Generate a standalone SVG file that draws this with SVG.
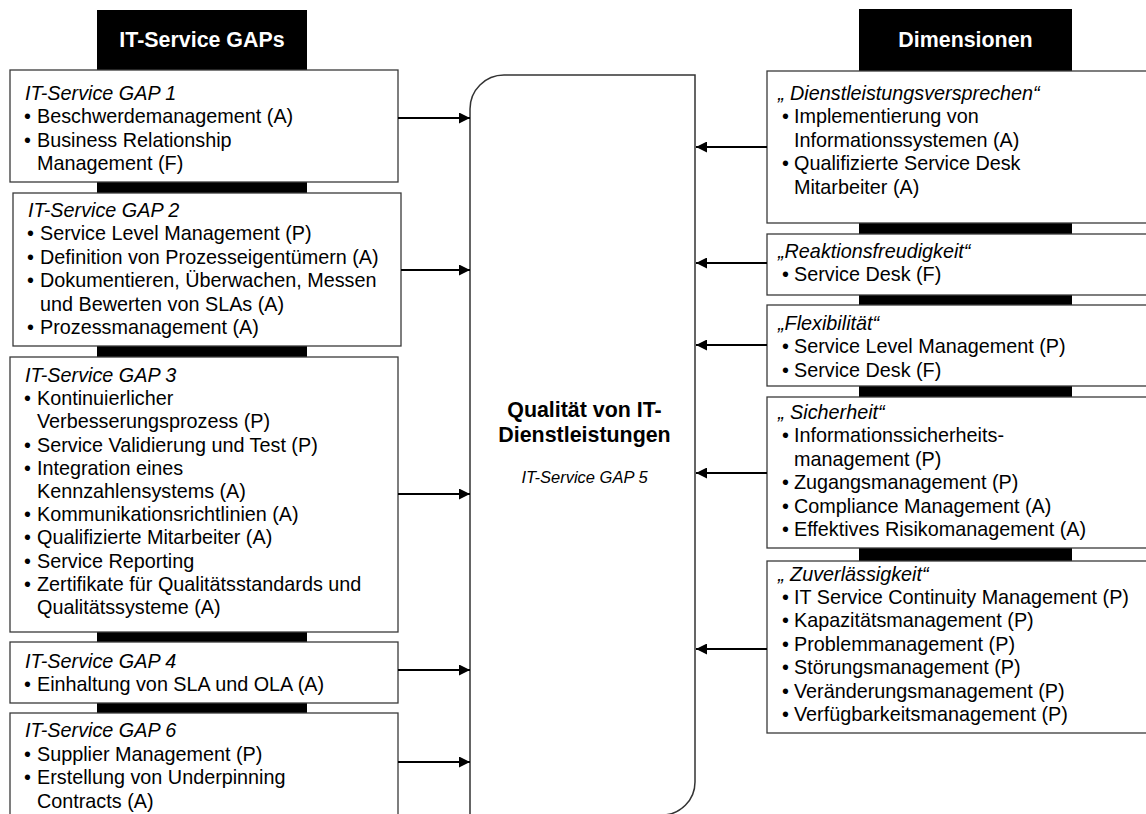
<svg xmlns="http://www.w3.org/2000/svg" width="1146" height="814" viewBox="0 0 1146 814">
<style>
.box{fill:#fff;stroke:#3a3a3a;stroke-width:1.3}
.col{fill:#000}
.hd{font-family:"Liberation Sans",Arial,sans-serif;font-weight:bold;font-size:21.4px;fill:#fff;text-anchor:middle}
.t{font-family:"Liberation Sans",Arial,sans-serif;font-size:19.8px;fill:#000}
.i{font-style:italic}
.c{font-family:"Liberation Sans",Arial,sans-serif;font-weight:bold;font-size:21.4px;fill:#000;text-anchor:middle}
.ci{font-family:"Liberation Sans",Arial,sans-serif;font-style:italic;font-size:16.5px;fill:#000;text-anchor:middle}
.con{stroke:#000;stroke-width:2;fill:none;marker-end:url(#ah)}
</style>
<defs>
<marker id="ah" markerUnits="userSpaceOnUse" markerWidth="12" markerHeight="11" refX="11" refY="5.5" orient="auto">
<path d="M0,0 L11,5.5 L0,11 Z" fill="#000"/>
</marker>
</defs>
<rect width="1146" height="814" fill="#fff"/>

<g id="header-left">
<rect class="col" x="97" y="10" width="210" height="810"/>
<text class="hd" x="202" y="47">IT-Service GAPs</text>
</g>
<g id="header-right">
<rect class="col" x="859" y="9" width="213" height="640"/>
<text class="hd" x="965.5" y="47">Dimensionen</text>
</g>

<g id="center">
<path class="box" d="M470,822 L470,109 A34,34 0 0 1 504,75 L695,75 L695,782 A33,33 0 0 1 662,815 L470,815" style="stroke-width:1.5;stroke:#333"/>
<text class="c" x="584.5" y="417">Qualität von IT-</text>
<text class="c" x="584.5" y="441.5">Dienstleistungen</text>
<text class="ci" x="584.5" y="483">IT-Service GAP 5</text>
</g>

<g id="gap1">
<rect class="box" x="10" y="70" width="388" height="112"/>
<text class="t i" x="25" y="99.5">IT-Service GAP 1</text>
<text class="t"><tspan x="24" y="123">•</tspan><tspan x="37" y="123">Beschwerdemanagement (A)</tspan></text>
<text class="t"><tspan x="24" y="146.5">•</tspan><tspan x="37" y="146.5">Business Relationship</tspan></text>
<text class="t" x="37" y="170">Management (F)</text>
</g>

<g id="gap2">
<rect class="box" x="13" y="193" width="388" height="153"/>
<text class="t i" x="28" y="216.5">IT-Service GAP 2</text>
<text class="t"><tspan x="27" y="240">•</tspan><tspan x="40" y="240">Service Level Management (P)</tspan></text>
<text class="t"><tspan x="27" y="263.5">•</tspan><tspan x="40" y="263.5">Definition von Prozesseigentümern (A)</tspan></text>
<text class="t"><tspan x="27" y="287">•</tspan><tspan x="40" y="287">Dokumentieren, Überwachen, Messen</tspan></text>
<text class="t" x="40" y="310.5">und Bewerten von SLAs (A)</text>
<text class="t"><tspan x="27" y="334">•</tspan><tspan x="40" y="334">Prozessmanagement (A)</tspan></text>
</g>

<g id="gap3">
<rect class="box" x="10" y="357" width="388" height="275"/>
<text class="t i" x="25" y="382">IT-Service GAP 3</text>
<text class="t"><tspan x="24" y="405.2">•</tspan><tspan x="37" y="405.2">Kontinuierlicher</tspan></text>
<text class="t" x="37" y="428.4">Verbesserungsprozess (P)</text>
<text class="t"><tspan x="24" y="451.6">•</tspan><tspan x="37" y="451.6">Service Validierung und Test (P)</tspan></text>
<text class="t"><tspan x="24" y="474.8">•</tspan><tspan x="37" y="474.8">Integration eines</tspan></text>
<text class="t" x="37" y="498">Kennzahlensystems (A)</text>
<text class="t"><tspan x="24" y="521.2">•</tspan><tspan x="37" y="521.2">Kommunikationsrichtlinien (A)</tspan></text>
<text class="t"><tspan x="24" y="544.4">•</tspan><tspan x="37" y="544.4">Qualifizierte Mitarbeiter (A)</tspan></text>
<text class="t"><tspan x="24" y="567.6">•</tspan><tspan x="37" y="567.6">Service Reporting</tspan></text>
<text class="t"><tspan x="24" y="590.8">•</tspan><tspan x="37" y="590.8">Zertifikate für Qualitätsstandards und</tspan></text>
<text class="t" x="37" y="614">Qualitätssysteme (A)</text>
</g>

<g id="gap4">
<rect class="box" x="10" y="642" width="388" height="61"/>
<text class="t i" x="25" y="667.5">IT-Service GAP 4</text>
<text class="t"><tspan x="24" y="691">•</tspan><tspan x="37" y="691">Einhaltung von SLA und OLA (A)</tspan></text>
</g>

<g id="gap6">
<rect class="box" x="10" y="713" width="388" height="110"/>
<text class="t i" x="25" y="737">IT-Service GAP 6</text>
<text class="t"><tspan x="24" y="760.5">•</tspan><tspan x="37" y="760.5">Supplier Management (P)</tspan></text>
<text class="t"><tspan x="24" y="784">•</tspan><tspan x="37" y="784">Erstellung von Underpinning</tspan></text>
<text class="t" x="37" y="807.5">Contracts (A)</text>
</g>

<g id="dim1">
<rect class="box" x="767" y="71" width="390" height="152"/>
<text class="t i" x="778" y="100">„ Dienstleistungsversprechen“</text>
<text class="t"><tspan x="782" y="123.4">•</tspan><tspan x="794" y="123.4">Implementierung von</tspan></text>
<text class="t" x="794" y="146.8">Informationssystemen (A)</text>
<text class="t"><tspan x="782" y="170.2">•</tspan><tspan x="794" y="170.2">Qualifizierte Service Desk</tspan></text>
<text class="t" x="794" y="193.6">Mitarbeiter (A)</text>
</g>

<g id="dim2">
<rect class="box" x="767" y="234" width="390" height="61"/>
<text class="t i" x="778" y="257.5">„Reaktionsfreudigkeit“</text>
<text class="t"><tspan x="782" y="281">•</tspan><tspan x="794" y="281">Service Desk (F)</tspan></text>
</g>

<g id="dim3">
<rect class="box" x="767" y="305" width="390" height="81"/>
<text class="t i" x="778" y="330">„Flexibilität“</text>
<text class="t"><tspan x="782" y="353.4">•</tspan><tspan x="794" y="353.4">Service Level Management (P)</tspan></text>
<text class="t"><tspan x="782" y="376.8">•</tspan><tspan x="794" y="376.8">Service Desk (F)</tspan></text>
</g>

<g id="dim4">
<rect class="box" x="767" y="397" width="390" height="151"/>
<text class="t i" x="778" y="419">„ Sicherheit“</text>
<text class="t"><tspan x="782" y="442.4">•</tspan><tspan x="794" y="442.4">Informationssicherheits-</tspan></text>
<text class="t" x="794" y="465.8">management (P)</text>
<text class="t"><tspan x="782" y="489.2">•</tspan><tspan x="794" y="489.2">Zugangsmanagement (P)</tspan></text>
<text class="t"><tspan x="782" y="512.6">•</tspan><tspan x="794" y="512.6">Compliance Management (A)</tspan></text>
<text class="t"><tspan x="782" y="536">•</tspan><tspan x="794" y="536">Effektives Risikomanagement (A)</tspan></text>
</g>

<g id="dim5">
<rect class="box" x="767" y="561" width="390" height="172"/>
<text class="t i" x="778" y="580.6">„ Zuverlässigkeit“</text>
<text class="t"><tspan x="782" y="604">•</tspan><tspan x="794" y="604">IT Service Continuity Management (P)</tspan></text>
<text class="t"><tspan x="782" y="627.4">•</tspan><tspan x="794" y="627.4">Kapazitätsmanagement (P)</tspan></text>
<text class="t"><tspan x="782" y="650.8">•</tspan><tspan x="794" y="650.8">Problemmanagement (P)</tspan></text>
<text class="t"><tspan x="782" y="674.2">•</tspan><tspan x="794" y="674.2">Störungsmanagement (P)</tspan></text>
<text class="t"><tspan x="782" y="697.6">•</tspan><tspan x="794" y="697.6">Veränderungsmanagement (P)</tspan></text>
<text class="t"><tspan x="782" y="721">•</tspan><tspan x="794" y="721">Verfügbarkeitsmanagement (P)</tspan></text>
</g>

<g id="connectors">
<path class="con" d="M398,118 L470,118"/>
<path class="con" d="M401,270 L470,270"/>
<path class="con" d="M398,494 L470,494"/>
<path class="con" d="M398,670 L470,670"/>
<path class="con" d="M398,762 L470,762"/>
<path class="con" d="M767,147 L696,147"/>
<path class="con" d="M767,263 L696,263"/>
<path class="con" d="M767,345 L696,345"/>
<path class="con" d="M767,473 L696,473"/>
<path class="con" d="M767,649 L696,649"/>
</g>
</svg>
